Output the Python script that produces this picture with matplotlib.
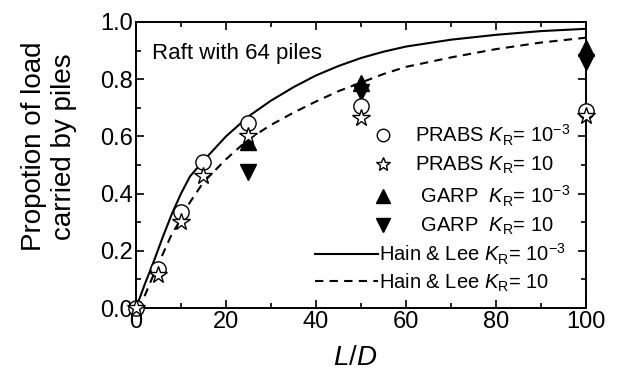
import matplotlib
matplotlib.use("Agg")
import matplotlib.pyplot as plt
from matplotlib.lines import Line2D

plt.rcParams['font.family'] = ['Liberation Sans', 'DejaVu Sans']
plt.rcParams['mathtext.fontset'] = 'custom'
plt.rcParams['mathtext.rm'] = 'Liberation Sans'
plt.rcParams['mathtext.it'] = 'Liberation Sans:italic'

# PRABS / GARP results
ld_prabs = [0, 5, 10, 15, 25, 50, 100]
prabs_lo = [0.0, 0.135, 0.335, 0.51, 0.647, 0.705, 0.69]
prabs_hi = [0.0, 0.115, 0.30, 0.46, 0.60, 0.665, 0.67]
ld_garp = [25, 50, 100]
garp_lo = [0.58, 0.785, 0.91]
garp_hi = [0.475, 0.755, 0.86]

# Hain & Lee curves
ld_hl = [0, 2, 4, 6, 8, 10, 12, 15, 20, 25, 30, 35, 40, 45, 50, 55, 60, 70, 80, 90, 100]
hl_lo = [0.0, 0.085, 0.165, 0.25, 0.33, 0.40, 0.46, 0.515, 0.60, 0.67, 0.725, 0.772,
         0.813, 0.846, 0.874, 0.896, 0.914, 0.938, 0.955, 0.968, 0.976]
hl_hi = [0.0, 0.045, 0.12, 0.19, 0.26, 0.31, 0.37, 0.44, 0.52, 0.59, 0.64, 0.683,
         0.722, 0.758, 0.788, 0.818, 0.843, 0.876, 0.905, 0.928, 0.945]

fig = plt.figure(figsize=(6.19, 3.72), dpi=100)
ax = fig.add_axes([0.2197, 0.172, 0.727, 0.769])

ax.plot(ld_hl, hl_lo, '-', color='black', lw=1.5)
ax.plot(ld_hl, hl_hi, color='black', lw=1.5, ls=(0, (4, 3)))

ax.plot(ld_garp, garp_lo, '^', color='black', ms=11, clip_on=False, zorder=4)
ax.plot(ld_garp, garp_hi, 'v', color='black', ms=11, clip_on=False, zorder=4)
ax.plot(ld_prabs, prabs_lo, 'o', mfc='white', mec='black', mew=1.0, ms=11,
        clip_on=False, zorder=5)
ax.plot(ld_prabs, prabs_hi, '*', mfc='white', mec='black', mew=1.0, ms=13,
        clip_on=False, zorder=6)

ax.set_xlim(0, 100)
ax.set_ylim(0, 1.0)
ax.set_xticks([0, 20, 40, 60, 80, 100])
ax.set_xticks(range(10, 100, 20), minor=True)
ax.set_yticks([0.0, 0.2, 0.4, 0.6, 0.8, 1.0])
ax.set_yticks([0.1, 0.3, 0.5, 0.7, 0.9], minor=True)
ax.set_yticklabels(['0.0', '0.2', '0.4', '0.6', '0.8', '1.0'])
ax.tick_params(which='both', direction='in', top=True, right=True,
               labelsize=17, width=1.2, pad=2)
ax.tick_params(which='major', length=6)
ax.tick_params(which='minor', length=3.5)
for s in ax.spines.values():
    s.set_linewidth(1.4)

ax.set_xlabel('$L/D$', fontsize=20)
ax.xaxis.set_label_coords(0.487, -0.128)
ax.set_ylabel('Propotion of load\ncarried by piles', fontsize=20,
              linespacing=1.2)
ax.yaxis.set_label_coords(-0.13, 0.565)

ax.text(0.036, 0.888, 'Raft with 64 piles', transform=ax.transAxes,
        fontsize=16, va='center', ha='left')

kr = r'$K_{\mathrm{R}}$= 10'
mark_handles = [
    Line2D([], [], ls='none', marker='o', mfc='white', mec='black', ms=9),
    Line2D([], [], ls='none', marker='*', mfc='white', mec='black', ms=10),
    Line2D([], [], ls='none', marker='^', color='black', ms=10),
    Line2D([], [], ls='none', marker='v', color='black', ms=10),
]
mark_labels = [
    'PRABS ' + kr + r'$^{\mathrm{-3}}$',
    'PRABS ' + kr,
    ' GARP  ' + kr + r'$^{\mathrm{-3}}$',
    ' GARP  ' + kr,
]
line_handles = [
    Line2D([], [], color='black', lw=1.5),
    Line2D([], [], color='black', lw=1.5, ls=(0, (4, 3))),
]
line_labels = [
    'Hain & Lee ' + kr + r'$^{\mathrm{-3}}$',
    'Hain & Lee ' + kr,
]
leg1 = ax.legend(mark_handles, mark_labels, loc='upper left', frameon=False,
                 fontsize=14.5, handlelength=1.5, handletextpad=0.8,
                 labelspacing=0.36, borderpad=0, borderaxespad=0,
                 bbox_to_anchor=(0.516, 0.648))
ax.add_artist(leg1)
ax.legend(line_handles, line_labels, loc='lower left', frameon=False,
          fontsize=14.5, handlelength=3.1, handletextpad=0.05,
          labelspacing=0.22, borderpad=0, borderaxespad=0,
          bbox_to_anchor=(0.398, 0.05))

fig.savefig('out.png', dpi=100)
